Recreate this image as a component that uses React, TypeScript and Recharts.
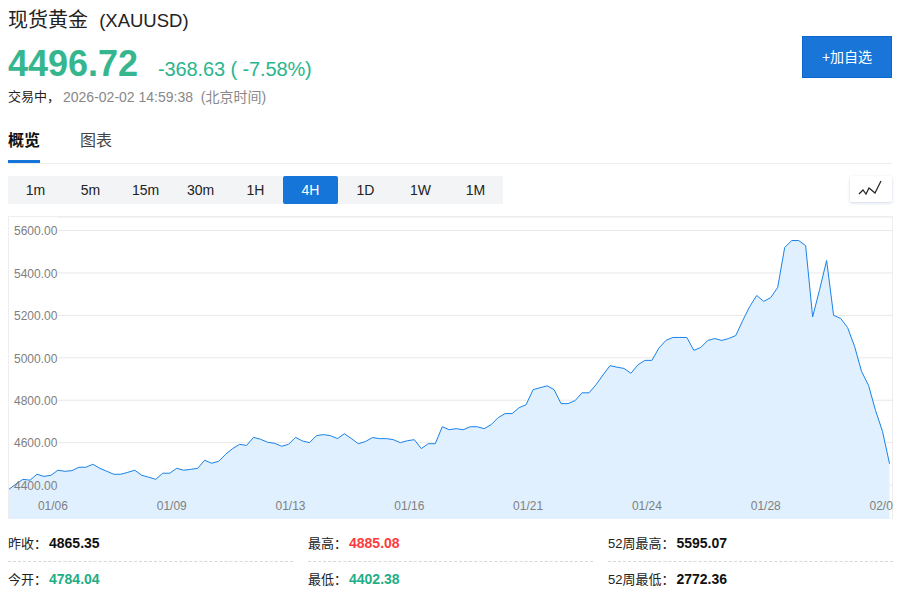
import { AreaChart, Area, XAxis, YAxis, CartesianGrid } from 'recharts';

const FONT = '"Liberation Sans", "Noto Sans CJK SC", sans-serif';

const closes = [
  4380, 4405, 4427, 4423, 4451, 4441, 4446, 4470, 4465, 4468, 4484, 4484, 4498, 4479, 4465, 4451,
  4451, 4460, 4470, 4446, 4437, 4427, 4456, 4456, 4479, 4470, 4474, 4479, 4517, 4503, 4512, 4545,
  4572, 4592, 4587, 4625, 4616, 4602, 4597, 4583, 4592, 4625, 4608, 4600, 4633, 4638, 4633, 4619,
  4642, 4619, 4595, 4605, 4624, 4619, 4619, 4614, 4600, 4609, 4614, 4572, 4595, 4595, 4675, 4661,
  4666, 4661, 4675, 4675, 4666, 4685, 4718, 4737, 4737, 4765, 4779, 4850, 4859, 4868, 4850, 4784,
  4784, 4798, 4835, 4835, 4873, 4919, 4963, 4956, 4950, 4927, 4967, 4988, 4988, 5046, 5082, 5096,
  5096, 5096, 5035, 5049, 5082, 5091, 5082, 5091, 5105, 5176, 5242, 5294, 5266, 5284, 5332, 5520,
  5553, 5553, 5529, 5193, 5322, 5459, 5200, 5186, 5143, 5054, 4936, 4870, 4752, 4653, 4501,
];
const tickIndexes = [6, 23, 40, 57, 74, 91, 108, 125];
const tickDates = ['01/06', '01/09', '01/13', '01/16', '01/21', '01/24', '01/28', '02/02'];
const priceTicks = [4400, 4600, 4800, 5000, 5200, 5400, 5600];
const periods = ['1m', '5m', '15m', '30m', '1H', '4H', '1D', '1W', '1M'];
const statLabels = [
  ['昨收：', '今开：'],
  ['最高：', '最低：'],
  ['52周最高：', '52周最低：'],
];
const statValues = [
  ['4865.35', '4784.04'],
  ['4885.08', '4402.38'],
  ['5595.07', '2772.36'],
];
const statColors = [
  ['#111', '#1fae86'],
  ['#ff3b3b', '#1fae86'],
  ['#111', '#111'],
];

const chartData = closes.map((close, i) => ({ i, close }));

function Label({ x, y, size, color, bold, children }: any) {
  return (
    <div
      style={{
        position: 'absolute',
        left: x,
        top: y - 15,
        height: 30,
        lineHeight: '30px',
        fontSize: size,
        color,
        fontWeight: bold ? 700 : 400,
        whiteSpace: 'nowrap',
      }}
    >
      {children}
    </div>
  );
}

export default function App() {
  return (
    <div
      style={{
        position: 'absolute',
        left: 0,
        top: 0,
        width: 902,
        height: 593,
        overflow: 'hidden',
        background: '#fff',
        fontFamily: FONT,
      }}
    >
      <Label x={8} y={20} size={20} color="#222">
        现货黄金&nbsp;&nbsp;<span style={{ fontSize: 18.5 }}>(XAUUSD)</span>
      </Label>
      <Label x={8} y={64} size={36} color="#36b68f" bold>4496.72</Label>
      <Label x={158} y={69} size={20} color="#2ab58f">
        <span style={{ letterSpacing: -0.12 }}>-368.63 ( -7.58%)</span>
      </Label>
      <Label x={8} y={97} size={13} color="#222">交易中，</Label>
      <Label x={63} y={97} size={14} color="#888">2026-02-02 14:59:38&nbsp;&nbsp;(北京时间)</Label>

      <div
        style={{
          position: 'absolute',
          left: 802,
          top: 36,
          width: 88,
          height: 40,
          border: '1px solid #0d66d0',
          background: '#1976d8',
          color: '#fff',
          fontSize: 14,
          lineHeight: '40px',
          textAlign: 'center',
        }}
      >
        +加自选
      </div>

      <Label x={8} y={141} size={16} color="#111" bold>概览</Label>
      <Label x={80} y={141} size={16} color="#444">图表</Label>
      <div style={{ position: 'absolute', left: 8, top: 163, width: 884, height: 1, background: '#eee' }} />
      <div style={{ position: 'absolute', left: 8, top: 160, width: 32, height: 3, background: '#1675d8' }} />

      <div style={{ position: 'absolute', left: 8, top: 176, width: 495, height: 28, background: '#f3f4f6' }} />
      {periods.map((p, k) => (
        <div
          key={p}
          style={{
            position: 'absolute',
            left: 8 + k * 55,
            top: 176,
            width: 55,
            height: 28,
            lineHeight: '28px',
            textAlign: 'center',
            fontSize: 14,
            color: p === '4H' ? '#fff' : '#222',
            background: p === '4H' ? '#1675d8' : 'transparent',
            borderRadius: 2,
          }}
        >
          {p}
        </div>
      ))}

      <div
        style={{
          position: 'absolute',
          left: 850,
          top: 176,
          width: 42,
          height: 26,
          background: '#fff',
          borderRadius: 2,
          boxShadow: '0 1px 3px rgba(60,90,160,0.25)',
        }}
      >
        <svg width={42} height={26} style={{ display: 'block' }}>
          <polyline points="9,18 13,14 16,18 19,12 25,17 31,5" fill="none" stroke="#222" strokeWidth={1.2} />
        </svg>
      </div>

      <div
        style={{
          position: 'absolute',
          left: 8,
          top: 216,
          width: 885,
          height: 303,
          boxSizing: 'border-box',
          border: '1px solid #eee',
          borderBottom: 'none',
        }}
      />
      <div style={{ position: 'absolute', left: 9, top: 217 }}>
        <AreaChart width={884} height={302} data={chartData} margin={{ top: 0, right: 0, bottom: 0, left: 0 }}>
          <CartesianGrid x={49} width={835} y={0} height={302} vertical={false} stroke="#e8e8e8" strokeWidth={1} />
          <XAxis
            type="number"
            dataKey="i"
            domain={[0, 126.5]}
            ticks={tickIndexes}
            interval={0}
            tickFormatter={(v: number) => tickDates[tickIndexes.indexOf(v)]}
            height={30}
            mirror
            axisLine={false}
            tickLine={false}
            tick={{ fill: '#808080', fontSize: 12, fontFamily: FONT, dx: 2, dy: -1 }}
          />
          <YAxis
            type="number"
            domain={[4240, 5664]}
            ticks={priceTicks}
            interval={0}
            tickFormatter={(v: number) => v.toFixed(2)}
            width={50}
            mirror
            axisLine={false}
            tickLine={false}
            tick={{ fill: '#808080', fontSize: 12, fontFamily: FONT, dx: -3, dy: 0.5 }}
          />
          <Area
            type="linear"
            dataKey="close"
            stroke="#1a82e8"
            strokeWidth={1}
            fill="#e0f0fe"
            fillOpacity={1}
            dot={false}
            isAnimationActive={false}
          />
        </AreaChart>
      </div>

      {statLabels.map((col, c) => (
        <div key={c}>
          {col.map((text, r) => (
            <Label key={text} x={8 + c * 300} y={543 + r * 36} size={13} color="#222">
              {text}
              <span style={{ color: statColors[c][r], fontWeight: 700, fontSize: 14, marginLeft: 2 }}>
                {statValues[c][r]}
              </span>
            </Label>
          ))}
          <div
            style={{
              position: 'absolute',
              left: 8 + c * 300,
              top: 561,
              width: 285,
              borderTop: '1px dashed #d8d8d8',
            }}
          />
        </div>
      ))}
    </div>
  );
}
